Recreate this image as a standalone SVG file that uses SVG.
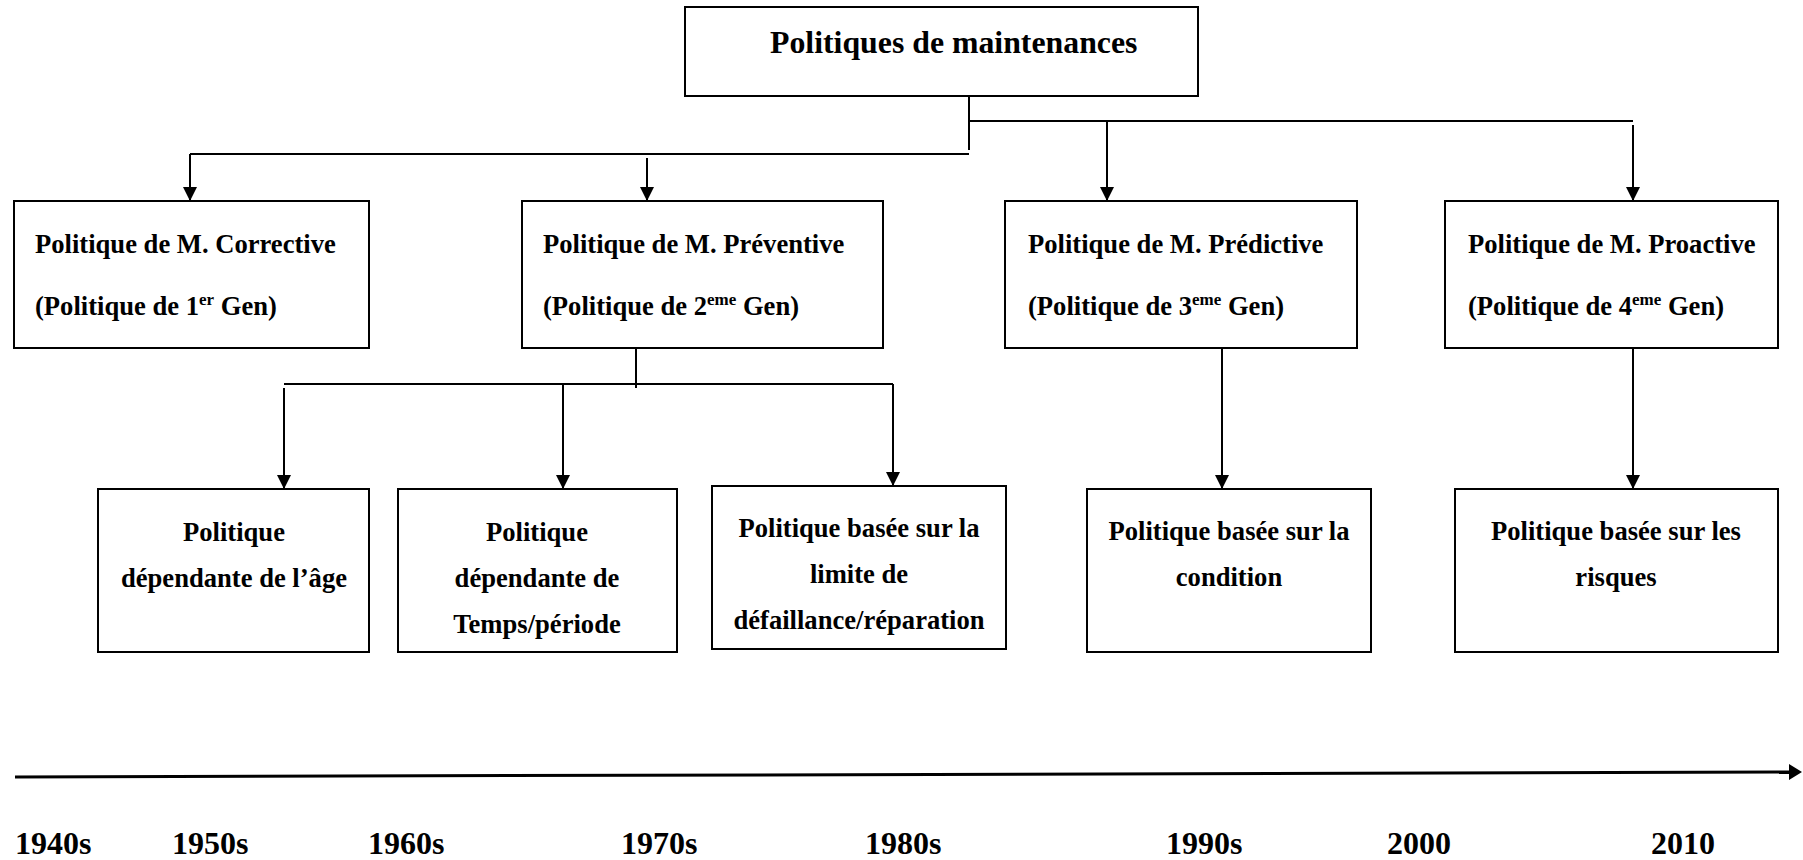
<svg xmlns="http://www.w3.org/2000/svg" width="1803" height="860" viewBox="0 0 1803 860">
<style>
.box{fill:#fff;stroke:#000;stroke-width:2}
.t{font-family:"Liberation Serif","Times New Roman",serif;font-weight:bold;font-size:26.6px;fill:#000}
.c{text-anchor:middle}
.title{font-size:31.8px}
.yr{font-size:32px}
.sup{font-size:17px}
.ln{fill:none;stroke:#000;stroke-width:2}
</style>
<defs>
<marker id="arr" viewBox="0 0 14 14" refX="14" refY="7" markerWidth="14" markerHeight="14" markerUnits="userSpaceOnUse" orient="auto">
<path d="M0,0 L14,7 L0,14 z" fill="#000"/>
</marker>
<marker id="arrT" viewBox="0 0 13 16" refX="2" refY="8" markerWidth="13" markerHeight="16" markerUnits="userSpaceOnUse" orient="auto">
<path d="M0,0 L13,8 L0,16 z" fill="#000"/>
</marker>
</defs>
<rect width="1803" height="860" fill="#fff"/>

<g id="connectors">
<path class="ln" d="M969,96 V150"/>
<path class="ln" d="M969,121 H1633"/>
<path class="ln" d="M190,154 H969"/>
<path class="ln" d="M523,154 H647" stroke-width="3"/>
<path class="ln" d="M190,154 V201" marker-end="url(#arr)"/>
<path class="ln" d="M647,158 V201" marker-end="url(#arr)"/>
<path class="ln" d="M1107,121 V201" marker-end="url(#arr)"/>
<path class="ln" d="M1633,125 V201" marker-end="url(#arr)"/>
<path class="ln" d="M636,348 V388"/>
<path class="ln" d="M284,384 H893" stroke-width="2.5"/>
<path class="ln" d="M284,388 V489" marker-end="url(#arr)"/>
<path class="ln" d="M563,384 V489" marker-end="url(#arr)"/>
<path class="ln" d="M893,384 V486" marker-end="url(#arr)"/>
<path class="ln" d="M1222,348 V489" marker-end="url(#arr)"/>
<path class="ln" d="M1633,348 V489" marker-end="url(#arr)"/>
</g>

<g id="root">
<rect class="box" x="685" y="7" width="513" height="89"/>
<text class="t title" x="770" y="53">Politiques de maintenances</text>
</g>

<g id="corrective">
<rect class="box" x="14" y="201" width="355" height="147"/>
<text class="t" x="35" y="253">Politique de M. Corrective</text>
<text class="t" x="35" y="315">(Politique de 1<tspan class="sup" dy="-10">er</tspan><tspan dy="10"> Gen)</tspan></text>
</g>

<g id="preventive">
<rect class="box" x="522" y="201" width="361" height="147"/>
<text class="t" x="543" y="253">Politique de M. Préventive</text>
<text class="t" x="543" y="315">(Politique de 2<tspan class="sup" dy="-10">eme</tspan><tspan dy="10"> Gen)</tspan></text>
</g>

<g id="predictive">
<rect class="box" x="1005" y="201" width="352" height="147"/>
<text class="t" x="1028" y="253">Politique de M. Prédictive</text>
<text class="t" x="1028" y="315">(Politique de 3<tspan class="sup" dy="-10">eme</tspan><tspan dy="10"> Gen)</tspan></text>
</g>

<g id="proactive">
<rect class="box" x="1445" y="201" width="333" height="147"/>
<text class="t" x="1468" y="253">Politique de M. Proactive</text>
<text class="t" x="1468" y="315">(Politique de 4<tspan class="sup" dy="-10">eme</tspan><tspan dy="10"> Gen)</tspan></text>
</g>

<g id="age">
<rect class="box" x="98" y="489" width="271" height="163"/>
<text class="t c" x="234" y="541">Politique</text>
<text class="t c" x="234" y="587">dépendante de l’âge</text>
</g>

<g id="temps">
<rect class="box" x="398" y="489" width="279" height="163"/>
<text class="t c" x="537" y="541">Politique</text>
<text class="t c" x="537" y="587">dépendante de</text>
<text class="t c" x="537" y="633">Temps/période</text>
</g>

<g id="limite">
<rect class="box" x="712" y="486" width="294" height="163"/>
<text class="t c" x="859" y="537">Politique basée sur la</text>
<text class="t c" x="859" y="583">limite de</text>
<text class="t c" x="859" y="629">défaillance/réparation</text>
</g>

<g id="condition">
<rect class="box" x="1087" y="489" width="284" height="163"/>
<text class="t c" x="1229" y="540">Politique basée sur la</text>
<text class="t c" x="1229" y="586">condition</text>
</g>

<g id="risques">
<rect class="box" x="1455" y="489" width="323" height="163"/>
<text class="t c" x="1616" y="540">Politique basée sur les</text>
<text class="t c" x="1616" y="586">risques</text>
</g>

<g id="timeline">
<path d="M15,777 L1791,772" fill="none" stroke="#000" stroke-width="3" marker-end="url(#arrT)"/>
<text class="t yr" x="15" y="854">1940s</text>
<text class="t yr" x="172" y="854">1950s</text>
<text class="t yr" x="368" y="854">1960s</text>
<text class="t yr" x="621" y="854">1970s</text>
<text class="t yr" x="865" y="854">1980s</text>
<text class="t yr" x="1166" y="854">1990s</text>
<text class="t yr" x="1387" y="854">2000</text>
<text class="t yr" x="1651" y="854">2010</text>
</g>
</svg>
